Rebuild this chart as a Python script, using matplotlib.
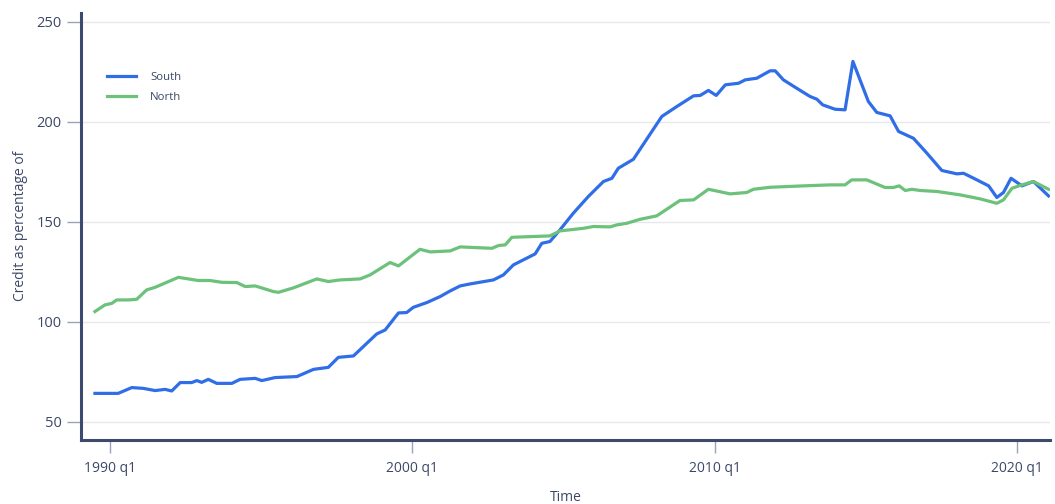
import matplotlib
matplotlib.use("Agg")
import matplotlib.pyplot as plt

plt.rcParams['font.family'] = ['Open Sans', 'DejaVu Sans']

# ---- data ----
south_t = [1989.50, 1990.27, 1990.72, 1991.10, 1991.49, 1991.82, 1992.04, 1992.32,
           1992.70, 1992.87, 1993.03, 1993.25, 1993.53, 1994.03, 1994.30, 1994.80,
           1995.02, 1995.46, 1996.18, 1996.73, 1997.22, 1997.55, 1998.05, 1998.49,
           1998.82, 1999.10, 1999.54, 1999.81, 2000.03, 2000.48, 2000.92, 2001.25,
           2001.58, 2001.91, 2002.68, 2003.01, 2003.34, 2004.06, 2004.28, 2004.55,
           2004.88, 2005.32, 2005.82, 2006.32, 2006.60, 2006.81, 2007.31, 2008.25,
           2008.75, 2009.30, 2009.52, 2009.79, 2010.05, 2010.35, 2010.79, 2011.01,
           2011.39, 2011.83, 2012.00, 2012.27, 2012.71, 2013.15, 2013.38, 2013.57,
           2013.98, 2014.31, 2014.57, 2015.08, 2015.36, 2015.80, 2016.08, 2016.57,
           2017.02, 2017.51, 2018.01, 2018.23, 2018.67, 2019.06, 2019.33, 2019.55,
           2019.80, 2020.16, 2020.54, 2021.04]
south_v = [64.3, 64.3, 67.2, 66.8, 65.7, 66.3, 65.5, 69.7,
           69.7, 70.7, 69.8, 71.3, 69.3, 69.3, 71.3, 71.8,
           70.7, 72.2, 72.7, 76.3, 77.3, 82.3, 83.0, 89.3,
           94.0, 96.0, 104.5, 104.7, 107.3, 109.7, 112.7, 115.5,
           118.0, 119.0, 121.0, 123.5, 128.5, 134.0, 139.3, 140.2,
           146.0, 154.3, 162.7, 170.2, 171.8, 176.8, 181.3, 202.7,
           207.7, 213.0, 213.2, 215.7, 213.2, 218.5, 219.3, 221.0,
           221.8, 225.5, 225.5, 221.0, 216.8, 212.7, 211.3, 208.5,
           206.3, 206.0, 230.2, 210.2, 204.7, 203.0, 195.2, 191.8,
           184.3, 175.7, 174.0, 174.3, 171.0, 168.0, 162.2, 164.7,
           171.8, 168.0, 170.2, 163.0]

north_t = [1989.50, 1989.83, 1990.06, 1990.22, 1990.61, 1990.88, 1991.21, 1991.49,
           1992.26, 1992.92, 1993.31, 1993.70, 1994.19, 1994.47, 1994.80, 1995.40,
           1995.57, 1996.06, 1996.84, 1997.22, 1997.61, 1998.27, 1998.60, 1999.26,
           1999.54, 2000.25, 2000.59, 2001.25, 2001.58, 2002.63, 2002.85, 2003.07,
           2003.29, 2004.55, 2004.88, 2005.66, 2005.99, 2006.54, 2006.76, 2007.09,
           2007.53, 2008.08, 2008.85, 2009.30, 2009.79, 2010.51, 2011.06, 2011.28,
           2011.83, 2012.93, 2013.82, 2014.31, 2014.53, 2015.03, 2015.63, 2015.91,
           2016.10, 2016.30, 2016.52, 2016.79, 2017.35, 2018.12, 2018.78, 2019.33,
           2019.55, 2019.83, 2020.16, 2020.54, 2021.04]
north_v = [105.2, 108.5, 109.3, 111.0, 111.0, 111.3, 116.0, 117.3,
           122.3, 120.7, 120.7, 119.8, 119.7, 117.7, 118.0, 115.2,
           114.8, 117.0, 121.5, 120.2, 121.0, 121.5, 123.5, 129.7,
           128.0, 136.3, 135.0, 135.5, 137.5, 136.8, 138.2, 138.5,
           142.3, 143.0, 145.5, 146.8, 147.7, 147.5, 148.5, 149.3,
           151.3, 153.0, 160.7, 161.0, 166.3, 164.0, 164.7, 166.3,
           167.3, 168.0, 168.5, 168.5, 171.0, 171.0, 167.2, 167.2,
           168.0, 165.7, 166.3, 165.7, 165.2, 163.5, 161.5, 159.3,
           161.0, 166.8, 168.5, 170.2, 166.3]

y_ticks = [50, 100, 150, 200, 250]
x_tick_years = [1990, 2000, 2010, 2020]
x_tick_labels = ["1990 q1", "2000 q1", "2010 q1", "2020 q1"]

# ---- styling ----
TEXT = "#3c4868"
SPINE = "#3d4a6e"
TICK = "#9aa3b8"
GRID = "#e6e8ef"
BLUE = "#2f6ee6"
GREEN = "#6cc17b"

fig = plt.figure(figsize=(10.55, 5.04), dpi=100)
ax = fig.add_axes([0.0768, 0.127, 0.9185, 0.848])

ax.plot(south_t, south_v, color=BLUE, lw=2.3, label="South", solid_joinstyle="round")
ax.plot(north_t, north_v, color=GREEN, lw=2.3, label="North", solid_joinstyle="round")

ax.set_xlim(1989.04, 2021.09)
ax.set_ylim(41, 254.6)

ax.set_yticks(y_ticks)
ax.set_xticks(x_tick_years)
ax.set_xticklabels(x_tick_labels)

ax.grid(axis="y", color=GRID, lw=1.0)
ax.set_axisbelow(True)

for s in ["top", "right"]:
    ax.spines[s].set_visible(False)
for s in ["left", "bottom"]:
    ax.spines[s].set_color(SPINE)
    ax.spines[s].set_linewidth(2.2)

ax.tick_params(axis="y", length=10, width=1, color=TICK, labelcolor=TEXT,
               labelsize=10.5, pad=4)
ax.tick_params(axis="x", length=9, width=1, color=TICK, labelcolor=TEXT,
               labelsize=10, pad=6)

ax.set_xlabel("Time", color=TEXT, fontsize=10, labelpad=10)
ax.set_ylabel("Credit as percentage of", color=TEXT, fontsize=10, labelpad=6)

leg = ax.legend(loc="upper left", bbox_to_anchor=(0.016, 0.886), frameon=False,
                fontsize=8.2, labelcolor=TEXT, handlelength=2.6, handletextpad=1.2,
                labelspacing=0.85)

fig.savefig("out.png", dpi=100)
